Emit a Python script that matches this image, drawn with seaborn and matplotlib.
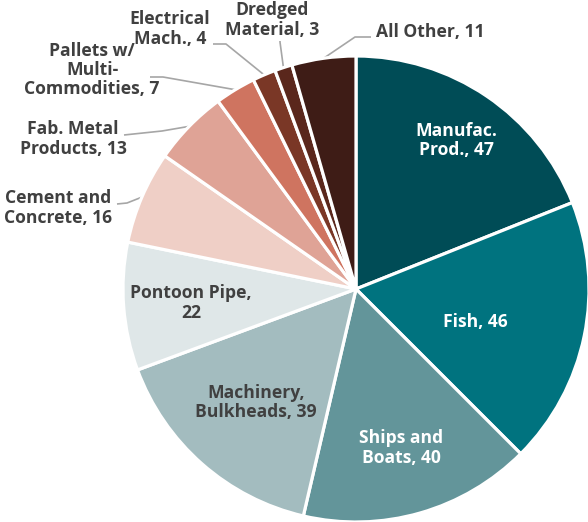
import numpy as np
import matplotlib
matplotlib.use("Agg")
import matplotlib.pyplot as plt
import seaborn as sns

categories = ["Manufac.\nProd.", "Fish", "Ships and\nBoats", "Machinery,\nBulkheads",
              "Pontoon Pipe,\n", "Cement and\nConcrete", "Fab. Metal\nProducts",
              "Pallets w/\nMulti-\nCommodities", "Electrical\nMach.", "Dredged\nMaterial",
              "All Other"]
values = [47, 46, 40, 39, 22, 16, 13, 7, 4, 3, 11]
colors = ["#004c56", "#00737f", "#63959a", "#a3bcbf", "#dfe7e8", "#efcfc6",
          "#dfa396", "#cf7460", "#7a3726", "#5a271c", "#3e1c16"]

sns.set_theme(style="white")
plt.rcParams['font.family'] = ['Open Sans', 'DejaVu Sans']

W, H = 588, 522
cx, cy, R = 356, 289, 233

fig = plt.figure(figsize=(W / 100, H / 100), dpi=100)
ax = fig.add_axes([(cx - R) / W, (H - cy - R) / H, 2 * R / W, 2 * R / H])
wedges, _ = ax.pie(values, colors=colors, startangle=90, counterclock=False,
                   wedgeprops=dict(edgecolor="white", linewidth=2.3))
for w in wedges:
    w.set_clip_on(False)
ax.set_xlim(-1, 1)
ax.set_ylim(-1, 1)
ax.set_aspect("equal")
ax.axis("off")

# mid angle (deg) for each wedge
mids = [(w.theta1 + w.theta2) / 2 for w in wedges]


def px(x, y):
    return (x - cx) / R, (cy - y) / R


def label_text(i):
    name = categories[i]
    if name.endswith("\n"):
        return f"{name[:-1]}\n{values[i]}"
    return f"{name}, {values[i]}"


txt = dict(fontsize=12.6, fontweight="bold", ha="center", va="center", linespacing=1.1)

# inside labels: (index, radius fraction, angle shift, color)
inside = [(0, 0.77, 0, "white"), (1, 0.53, -4, "white"), (2, 0.71, 0, "white"),
          (3, 0.65, 0, "#404040"), (4, 0.71, 0.5, "#404040")]
for i, r, da, c in inside:
    a = np.deg2rad(mids[i] + da)
    ax.text(r * np.cos(a), r * np.sin(a), label_text(i), color=c, **txt)

# outside labels: (index, text center px, leader start px, knee px)
outside = [
    (5, (58, 208), (117, 204), (127, 203)),
    (6, (73, 139), (124, 135), (162, 131)),
    (7, (92, 70), (150, 77), (163, 77)),
    (8, (170, 29), (213, 44), (226, 44)),
    (9, (272, 20), (280, 41), (280, 42)),
    (10, (430, 32), (371, 37), (355, 37)),
]
for i, tpos, p0, p1 in outside:
    a = np.deg2rad(mids[i])
    ex, ey = 1.0 * np.cos(a), 1.0 * np.sin(a)
    x0, y0 = px(*p0)
    x1, y1 = px(*p1)
    ax.plot([x0, x1, ex], [y0, y1, ey], color="#a6a6a6", lw=1.2,
            solid_capstyle="butt", clip_on=False, zorder=0)
    ax.text(*px(*tpos), label_text(i), color="#404040", clip_on=False, **txt)

fig.savefig("out.png", dpi=100)
